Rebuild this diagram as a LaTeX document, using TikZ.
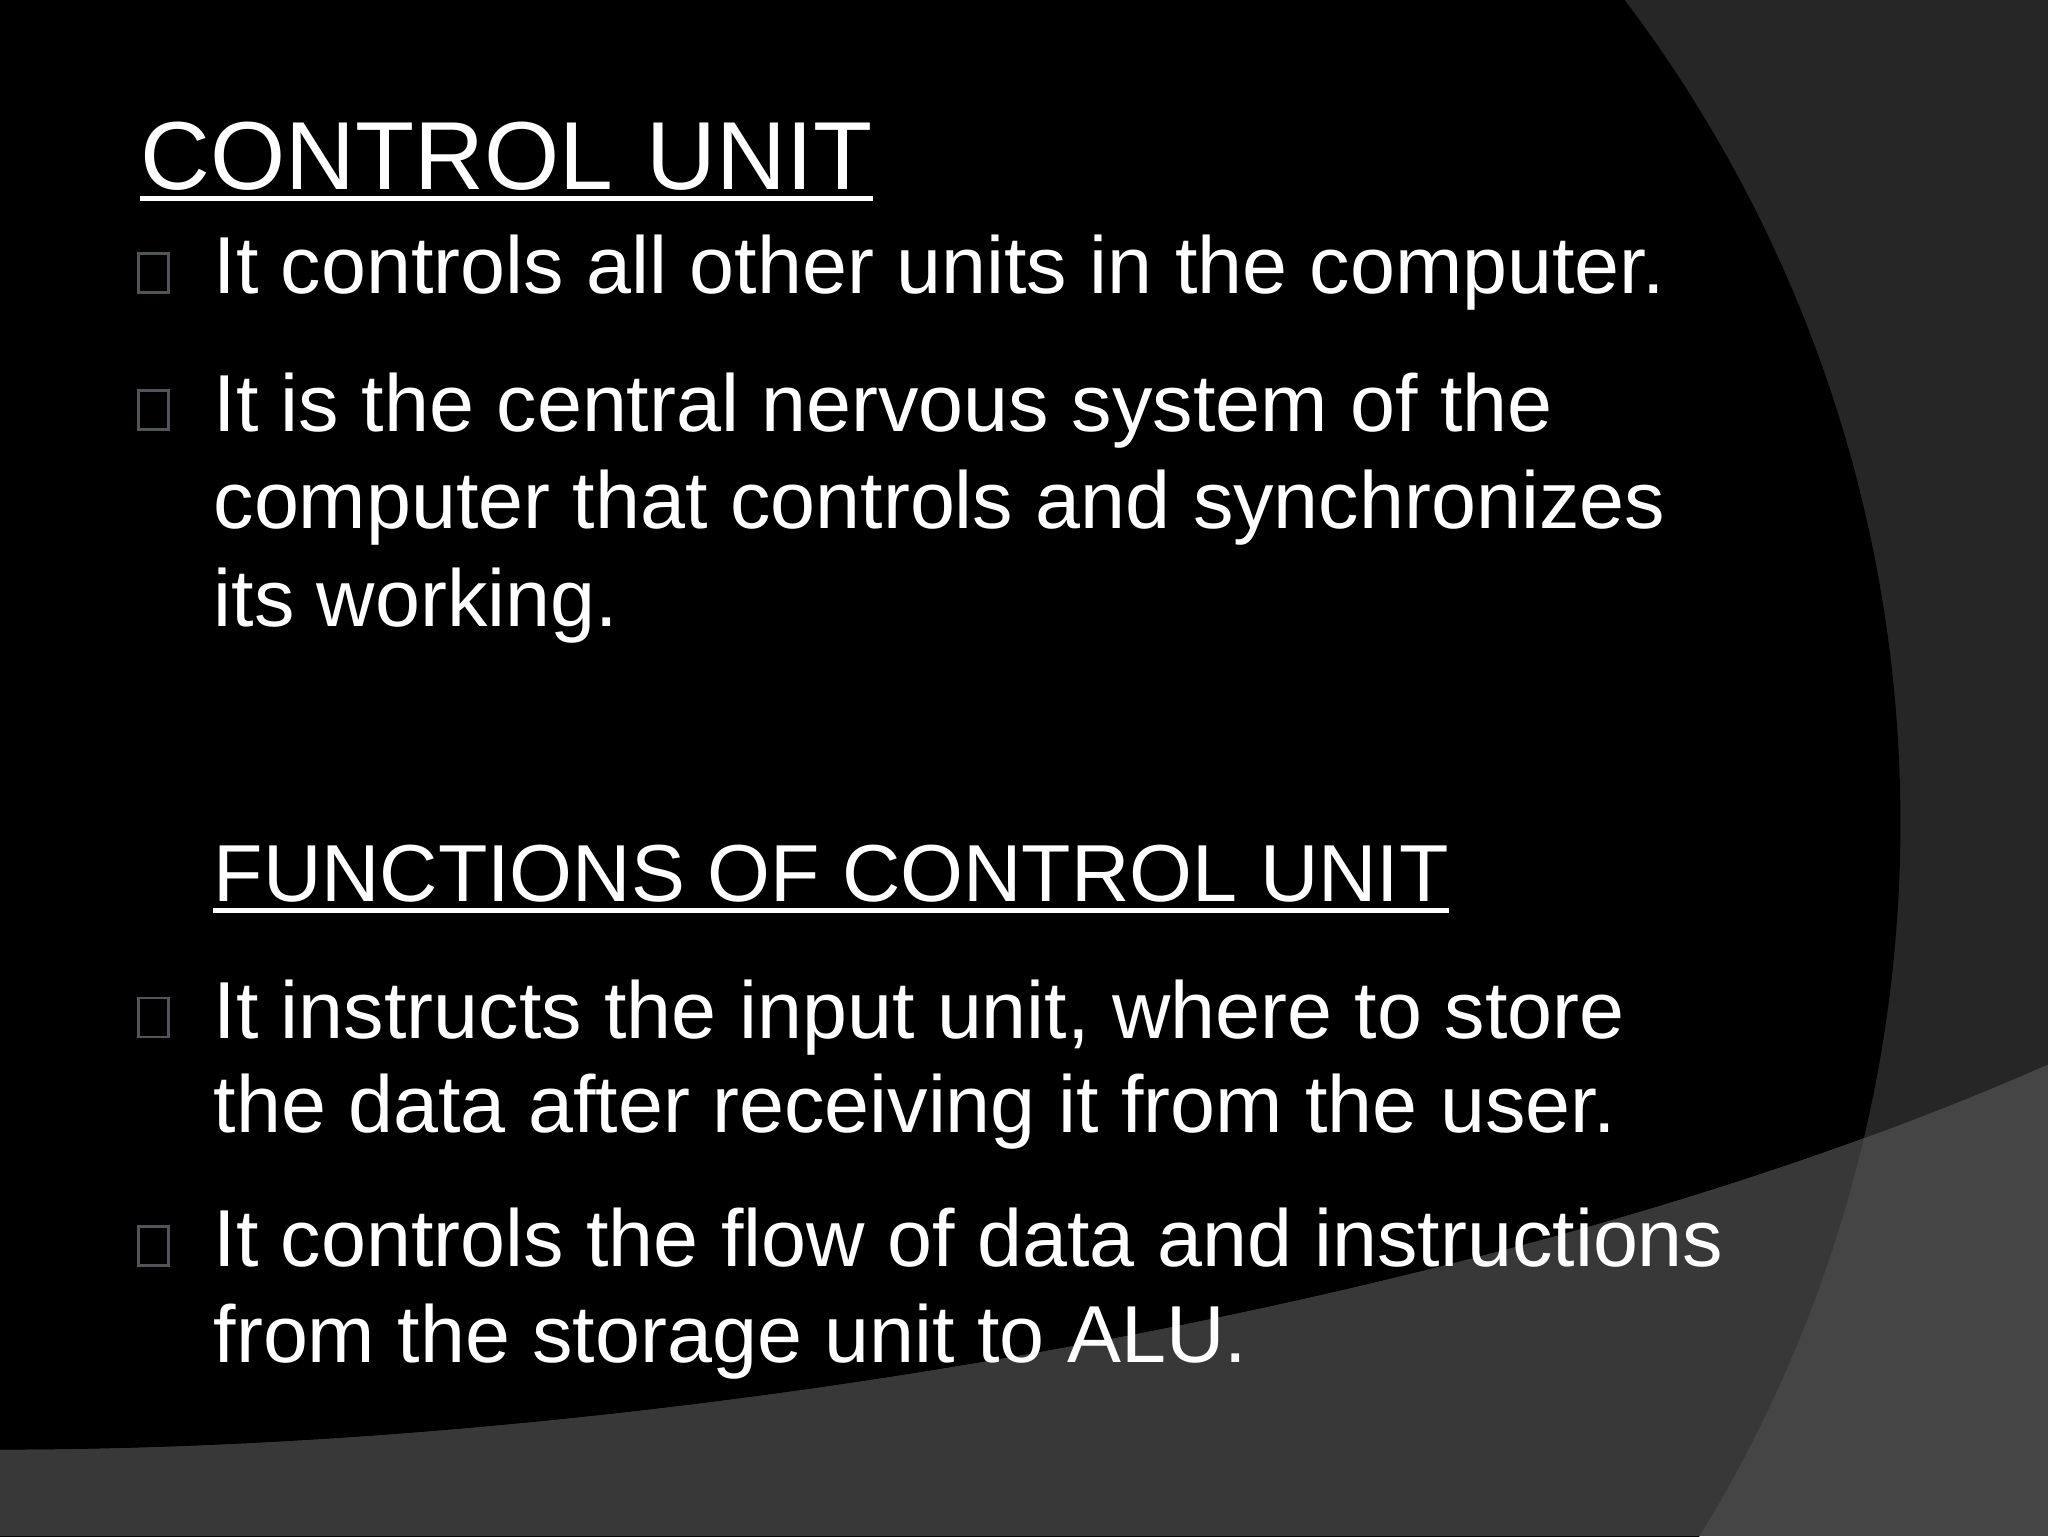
\documentclass[tikz,border=0pt]{standalone}
\usepackage{fontspec}
\setmainfont{Liberation Sans}
\usetikzlibrary{calc}
\begin{document}
\begin{tikzpicture}[x=0.1306mm,y=-0.1306mm,
  body/.style={anchor=base west,text=white,inner sep=0pt,font=\fontsize{23}{28}\selectfont},
  ttl/.style={anchor=base west,text=white,inner sep=0pt,font=\fontsize{27.5}{34}\selectfont},
  uline/.style={white,line width=1.3pt},
  bul/.style={draw=gray!70!cyan!40!black,line width=0.7pt}]
\useasboundingbox (0,0) rectangle (1568,1176);
\fill[black!85] (0,0) rectangle (1568,1176);
\fill[black] (410,630) circle (1045);
\begin{scope}
\clip (0,1110) .. controls (500,1110) and (1150,1000) .. (1568,815) -- (1568,1176) -- (0,1176) -- cycle;
\fill[black!73] (0,0) rectangle (1568,1176);
\fill[black!78] (410,630) circle (1045);
\end{scope}
\node[ttl] (t) at (107,145) {CONTROL\hspace{0.35em}UNIT};
\draw[uline] ($(t.base west)+(0,7)$) -- ($(t.base east)+(0,7)$);
\node[body] (a1) at (163,225) {It controls all other units in the computer.};
\node[body] (b1) at (163,330) {It is the central nervous system of the};
\node[body] (b2) at (163,405) {computer that controls and synchronizes};
\node[body] (b3) at (163,480) {its working.};
\node[body] (h) at (163,690) {FUNCTIONS OF CONTROL UNIT};
\draw[uline] ($(h.base west)+(0,7)$) -- ($(h.base east)+(0,7)$);
\node[body] (c1) at (163,795) {It instructs the input unit, where to store};
\node[body] (c2) at (163,867) {the data after receiving it from the user.};
\node[body] (d1) at (163,970) {It controls the flow of data and instructions};
\node[body] (d2) at (163,1043) {from the storage unit to ALU.};
\foreach \yy in {225,330,795,970}
  \draw[bul] (106,\yy-31) rectangle (129,\yy-1);
\end{tikzpicture}
\end{document}
